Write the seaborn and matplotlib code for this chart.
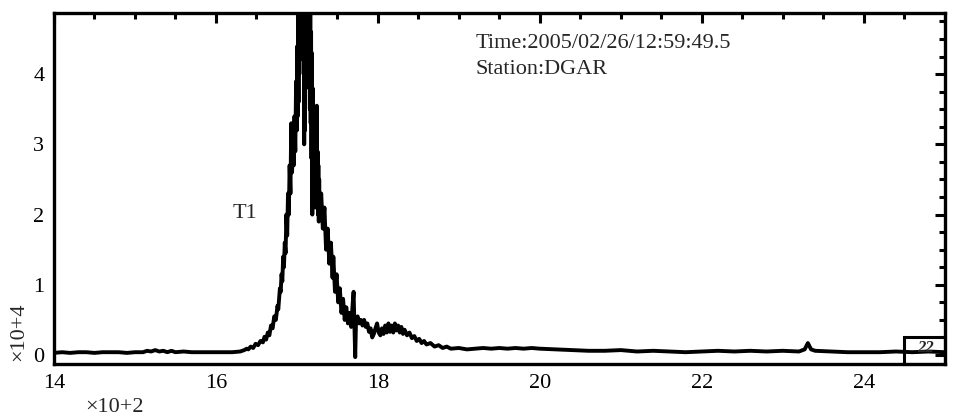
import pandas as pd
import seaborn as sns
import matplotlib.pyplot as plt
from matplotlib.patches import Rectangle
from matplotlib.ticker import MultipleLocator

# sample index (x10^2) and amplitude (x10^4), by segment
t_base = [14.0, 14.1, 14.2, 14.3, 14.4, 14.5, 14.6, 14.7, 14.8, 14.9, 15.0, 15.1,
          15.15, 15.2, 15.25, 15.3, 15.35, 15.4, 15.45, 15.5, 15.6, 15.7, 15.8, 15.9,
          16.0, 16.1, 16.2, 16.3]
a_base = [0.03, 0.04, 0.03, 0.04, 0.04, 0.03, 0.04, 0.04, 0.04, 0.03, 0.04, 0.04,
          0.06, 0.05, 0.07, 0.05, 0.06, 0.04, 0.06, 0.04, 0.05, 0.04, 0.04, 0.04,
          0.04, 0.04, 0.04, 0.05]

t_rise = [16.35, 16.38, 16.40, 16.43, 16.46, 16.49, 16.52, 16.55, 16.58, 16.60,
          16.62, 16.64, 16.66, 16.68, 16.70, 16.72, 16.74, 16.76, 16.77, 16.79,
          16.80, 16.81, 16.82, 16.83, 16.84, 16.85, 16.86, 16.87, 16.88, 16.89,
          16.90, 16.91, 16.92, 16.93, 16.94, 16.95, 16.96, 16.97, 16.98, 16.99]
a_rise = [0.07, 0.09, 0.08, 0.12, 0.10, 0.16, 0.14, 0.20, 0.18, 0.26,
          0.22, 0.32, 0.28, 0.42, 0.38, 0.55, 0.50, 0.70, 0.65, 0.95,
          0.90, 1.15, 1.05, 1.40, 1.25, 1.60, 1.45, 2.00, 1.70, 2.30,
          2.00, 2.70, 2.30, 3.30, 2.60, 3.00, 2.70, 3.40, 2.90, 3.90]

t_peak = [17.000, 17.005, 17.010, 17.015, 17.020, 17.025, 17.030, 17.035, 17.040, 17.045,
          17.050, 17.055, 17.060, 17.065, 17.070, 17.075, 17.080, 17.085, 17.090, 17.095,
          17.100, 17.105, 17.110, 17.115, 17.120, 17.125, 17.130, 17.135, 17.140, 17.145,
          17.150, 17.155, 17.160, 17.165, 17.170, 17.175, 17.180, 17.185, 17.190, 17.195,
          17.200, 17.205, 17.210, 17.215, 17.220, 17.225, 17.230, 17.235, 17.240, 17.245,
          17.250, 17.255, 17.260, 17.265, 17.270, 17.275]
a_peak = [3.2, 4.4, 3.4, 5.0, 3.6, 5.5, 4.0, 5.8, 4.5, 6.0,
          4.6, 6.2, 4.4, 6.0, 4.8, 6.3, 4.2, 5.8, 3.0, 5.6,
          3.2, 5.9, 4.5, 6.1, 4.6, 6.0, 4.2, 5.7, 4.4, 5.5,
          3.8, 5.2, 3.5, 5.0, 3.3, 4.6, 2.8, 4.3, 2.0, 3.8,
          2.6, 3.4, 2.5, 3.2, 2.3, 3.0, 2.1, 3.3, 2.2, 3.55,
          2.2, 2.9, 2.0, 2.7, 1.9, 2.5]

t_decay = [17.28, 17.30, 17.32, 17.34, 17.36, 17.38, 17.40, 17.42, 17.44, 17.45,
           17.47, 17.49, 17.51, 17.53, 17.55, 17.57, 17.59, 17.61, 17.63, 17.65,
           17.67, 17.69, 17.70, 17.71, 17.72, 17.73, 17.75, 17.77, 17.79, 17.81,
           17.83, 17.85, 17.87, 17.89, 17.91, 17.93, 17.95, 17.97, 17.99, 18.01,
           18.03, 18.05, 18.07, 18.09, 18.11, 18.13, 18.15, 18.17, 18.19, 18.21,
           18.23, 18.25, 18.27, 18.29, 18.31, 18.33, 18.36, 18.39, 18.42, 18.45,
           18.48, 18.51, 18.54, 18.57, 18.60, 18.65, 18.70, 18.75, 18.80, 18.85]
a_decay = [2.0, 2.3, 1.8, 2.1, 1.5, 1.8, 1.3, 1.6, 1.1, 1.4,
           0.9, 1.15, 0.75, 0.95, 0.6, 0.8, 0.5, 0.68, 0.45, 0.6,
           0.4, 0.75, 0.9, 0.45, -0.03, 0.5, 0.55, 0.45, 0.5, 0.42,
           0.5, 0.4, 0.45, 0.33, 0.38, 0.25, 0.3, 0.38, 0.45, 0.32,
           0.28, 0.38, 0.3, 0.42, 0.32, 0.45, 0.33, 0.42, 0.32, 0.45,
           0.35, 0.42, 0.32, 0.4, 0.3, 0.36, 0.28, 0.32, 0.24, 0.27,
           0.2, 0.23, 0.17, 0.2, 0.15, 0.17, 0.12, 0.14, 0.1, 0.12]

t_coda = [18.9, 19.0, 19.1, 19.2, 19.3, 19.4, 19.5, 19.6, 19.7, 19.8,
          19.9, 20.0, 20.2, 20.4, 20.6, 20.8, 21.0, 21.2, 21.4, 21.6,
          21.8, 22.0, 22.2, 22.4, 22.6, 22.8, 23.0, 23.2, 23.27, 23.31,
          23.35, 23.4, 23.6, 23.8, 24.0, 24.2, 24.4, 24.6, 24.8, 25.0]
a_coda = [0.09, 0.1, 0.08, 0.09, 0.1, 0.09, 0.1, 0.09, 0.1, 0.09,
          0.1, 0.09, 0.08, 0.07, 0.06, 0.06, 0.07, 0.05, 0.06, 0.05,
          0.04, 0.05, 0.06, 0.05, 0.06, 0.05, 0.06, 0.05, 0.08, 0.17,
          0.08, 0.06, 0.05, 0.04, 0.04, 0.04, 0.05, 0.04, 0.05, 0.04]

df = pd.DataFrame({
    't': t_base + t_rise + t_peak + t_decay + t_coda,
    'amp': a_base + a_rise + a_peak + a_decay + a_coda,
})

sns.set_style("white")
plt.rcParams['font.family'] = ['Liberation Serif', 'DejaVu Serif']

fig = plt.figure(figsize=(9.64, 4.2), dpi=100)
ax = fig.add_axes([0.056, 0.133, 0.924, 0.836])
sns.lineplot(data=df, x='t', y='amp', color='black', linewidth=2.8,
             sort=False, ax=ax)

ax.set_xlim(14, 25)
ax.set_ylim(-0.13, 4.87)
ax.xaxis.set_major_locator(MultipleLocator(2))
ax.xaxis.set_minor_locator(MultipleLocator(0.5))
ax.yaxis.set_major_locator(MultipleLocator(1))
ax.yaxis.set_minor_locator(MultipleLocator(0.25))
ax.tick_params(which='both', direction='in', top=True, right=True,
               labelsize=16, colors='black', width=2.2)
ax.tick_params(which='major', length=7, pad=7)
ax.tick_params(which='minor', length=4)
for s in ax.spines.values():
    s.set_linewidth(2.4)
    s.set_color('black')
ax.set_xlabel('')
ax.set_ylabel('')

ax.text(19.21, 4.43, 'Time:2005/02/26/12:59:49.5', fontsize=16, va='center')
ax.text(19.21, 4.06, 'Station:DGAR', fontsize=16, va='center')
ax.text(16.2, 2.02, 'T1', fontsize=16, va='center')

ax.add_patch(Rectangle((24.5, -0.13), 0.5, 0.39, fill=False,
                       edgecolor='black', linewidth=2.2, clip_on=False))
ax.text(24.76, 0.1, '22', fontsize=12, fontweight='bold', style='italic',
        ha='center', va='center')

fig.text(0.019, 0.21, '×10+4', rotation=90, fontsize=16, ha='center', va='center')
fig.text(0.119, 0.03, '×10+2', fontsize=16, ha='center', va='center')

fig.savefig('out.png', dpi=100, facecolor='white')
